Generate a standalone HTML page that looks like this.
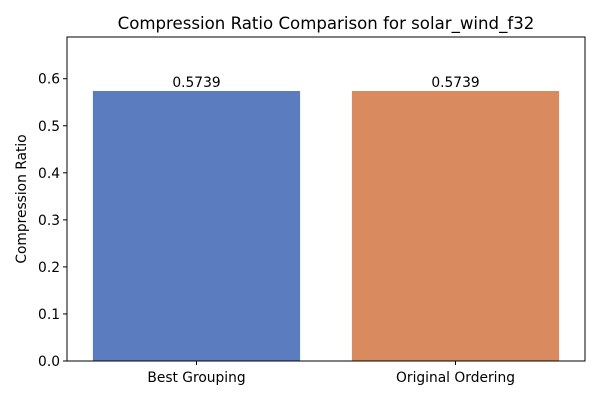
<!DOCTYPE html>
<html><head><meta charset="utf-8"><style>
body{margin:0;background:#fff;}
svg{display:block;font-family:"DejaVu Sans","Liberation Sans",sans-serif;}
</style></head><body>
<svg id="chart" width="600" height="400" viewBox="0 0 600 400" xmlns="http://www.w3.org/2000/svg">
<text x="326" y="29" font-size="16.6" text-anchor="middle" fill="#000">Compression Ratio Comparison for solar_wind_f32</text>
<text transform="translate(26,199) rotate(-90)" font-size="13.8" text-anchor="middle" fill="#000">Compression Ratio</text>
<g id="marks"></g>
<rect x="67" y="37" width="518" height="324" fill="none" stroke="#000" stroke-width="1"/>
</svg>
<script>
const categories = ["Best Grouping", "Original Ordering"];
const values = [0.5739, 0.5739];
const valueLabels = ["0.5739", "0.5739"];
const yTicks = [0.0, 0.1, 0.2, 0.3, 0.4, 0.5, 0.6];
const colors = ["#5b7dc0", "#d98b5f"];

const L = 67, R = 585, T = 37, B = 361;
const yMax = Math.max(...values) * 1.2;
const y = v => B - (v / yMax) * (B - T);
const unit = (R - L) / categories.length;
const x = i => L + unit * (i + 0.5);
const ns = "http://www.w3.org/2000/svg";
const g = document.getElementById("marks");
function mk(tag, attrs) { const e = document.createElementNS(ns, tag); for (const k in attrs) e.setAttribute(k, attrs[k]); g.appendChild(e); return e; }

yTicks.forEach(t => {
  const yy = y(t);
  const tk = mk("line", {x1: L - 4, x2: L, y1: yy, y2: yy, stroke: "#000"});
  
  
  const lb = mk("text", {x: L - 7, y: yy + 5, "font-size": 13.8, "text-anchor": "end"});
  lb.textContent = t.toFixed(1);
  
  
});

categories.forEach((c, i) => {
  const w = unit * 0.8;
  const bar = mk("rect", {x: x(i) - w / 2, y: y(values[i]), width: w, height: B - y(values[i]), fill: colors[i]});
  
  
  const vl = mk("text", {x: x(i), y: y(values[i]) - 4, "font-size": 13.8, "text-anchor": "middle"});
  vl.textContent = valueLabels[i];
  
  
  const tk = mk("line", {x1: x(i), x2: x(i), y1: B, y2: B + 4, stroke: "#000"});
  
  
  const xl = mk("text", {x: x(i), y: B + 21, "font-size": 13.8, "text-anchor": "middle"});
  xl.textContent = c;
  
  
});
</script>
</body></html>
